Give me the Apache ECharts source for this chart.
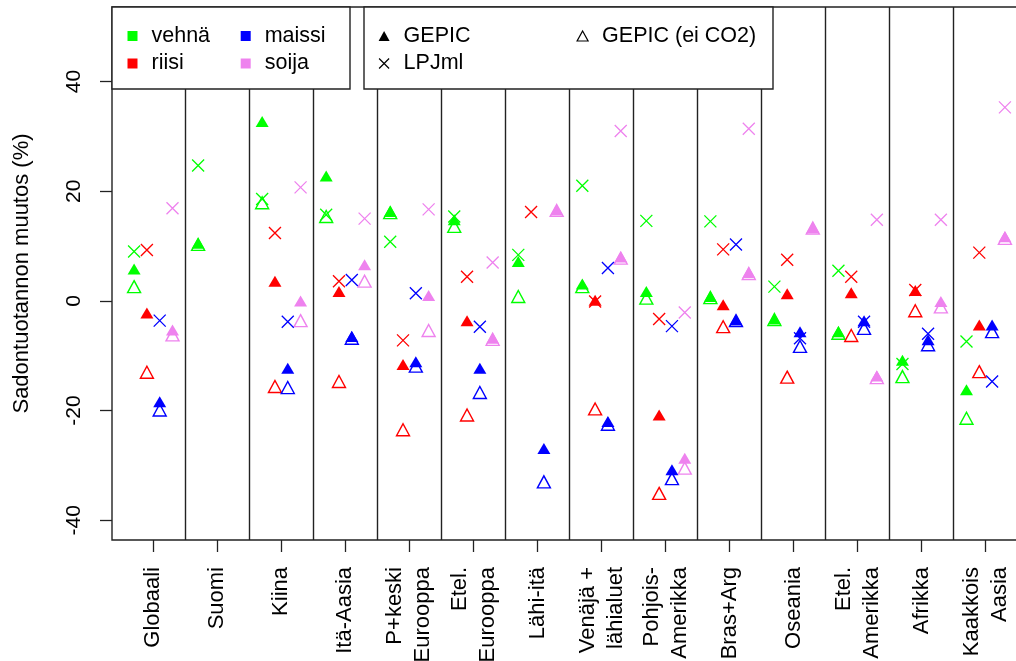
<!DOCTYPE html>
<html>
<head>
<meta charset="utf-8">
<script src="https://cdn.jsdelivr.net/npm/echarts@6/dist/echarts.min.js"></script>
<style>
html,body{margin:0;padding:0;background:#fff;}
#chart{width:1016px;height:661px;}
</style>
</head>
<body>
<div id="chart"></div>
<script>
// ---------- data ----------
const regions = ['Globaali','Suomi','Kiina','Itä-Aasia','P+keski\nEurooppa','Etel.\nEurooppa','Lähi-itä',
  'Venäjä +\nlähialuet','Pohjois-\nAmerikka','Bras+Arg','Oseania','Etel.\nAmerikka','Afrikka','Kaakkois\nAasia'];
const yTicks = [-40, -20, 0, 20, 40];
const crops = ['vehnä', 'riisi', 'maissi', 'soija'];
const models = ['GEPIC', 'LPJml', 'GEPIC (ei CO2)'];

const vehnaGEPIC  = [5.8, 10.5, 32.7, 22.8, 16.3, 14.8, 7.2, 3.1, 1.7, 0.8, -3.3, -5.6, -10.8, -16.2];
const vehnaLPJml  = [9.0, 24.7, 18.6, 15.7, 10.8, 15.4, 8.4, 21.0, 14.6, 14.5, 2.6, 5.5, -11.5, -7.4];
const vehnaNoCO2  = [2.6, 10.3, 17.9, 15.4, 16.1, 13.6, 0.8, 2.6, 0.5, 0.6, -3.4, -5.9, -13.8, -21.4];

const riisiGEPIC  = [-2.2, null, 3.6, 1.7, -11.6, -3.6, null, 0.1, -20.8, -0.7, 1.3, 1.5, 1.9, -4.4];
const riisiLPJml  = [9.3, null, 12.4, 3.6, -7.2, 4.4, 16.2, -0.1, -3.3, 9.4, 7.5, 4.4, 2.0, 8.8];
const riisiNoCO2  = [-13.0, null, -15.6, -14.7, -23.5, -20.8, null, -19.7, -35.1, -4.7, -13.9, -6.3, -1.8, -12.9];

const maissiGEPIC = [-18.4, null, -12.3, -6.5, -11.1, -12.3, -26.9, -22.0, -30.8, -3.5, -5.6, -3.6, -7.1, -4.4];
const maissiLPJml = [-3.6, null, -3.8, 3.8, 1.4, -4.7, null, 6.0, -4.6, 10.3, -6.8, -3.8, -6.0, -14.7];
const maissiNoCO2 = [-19.9, null, -15.8, -6.8, -11.9, -16.7, -33.0, -22.5, -32.4, -3.6, -8.3, -5.0, -8.0, -5.6];

const soijaGEPIC  = [-5.3, null, 0.0, 6.6, 1.0, -6.8, 16.6, 8.0, -28.7, 5.2, 13.4, -13.7, -0.1, 11.7];
const soijaLPJml  = [16.9, null, 20.7, 15.0, 16.7, 7.0, null, 31.0, -2.1, 31.4, null, 14.8, 14.8, 35.3];
const soijaNoCO2  = [-6.2, null, -3.6, 3.6, -5.4, -7.0, 16.5, 7.8, -30.5, 5.0, 13.3, -14.0, -1.1, 11.4];

const values = {
  'vehnä':  {'GEPIC': vehnaGEPIC,  'LPJml': vehnaLPJml,  'GEPIC (ei CO2)': vehnaNoCO2},
  'riisi':  {'GEPIC': riisiGEPIC,  'LPJml': riisiLPJml,  'GEPIC (ei CO2)': riisiNoCO2},
  'maissi': {'GEPIC': maissiGEPIC, 'LPJml': maissiLPJml, 'GEPIC (ei CO2)': maissiNoCO2},
  'soija':  {'GEPIC': soijaGEPIC,  'LPJml': soijaLPJml,  'GEPIC (ei CO2)': soijaNoCO2}
};
const separators = [1.5, 2.5, 3.5, 4.5, 5.5, 6.5, 7.5, 8.5, 9.5, 10.5, 11.5, 12.5, 13.5];

// ---------- styles ----------
const cropColor = {'vehnä': '#00FF00', 'riisi': '#FF0000', 'maissi': '#0000FF', 'soija': '#EE82EE'};
const cropOffset = {'vehnä': -0.3, 'riisi': -0.1, 'maissi': 0.1, 'soija': 0.3};
const CROSS = 'path://M0,0L10,10M10,0L0,10';
const FONT = 'Liberation Sans, Arial, sans-serif';

function modelStyle(model, color) {
  if (model === 'GEPIC') return {symbol: 'triangle', symbolSize: [13, 11], itemStyle: {color: color, borderWidth: 0, opacity: 1}};
  if (model === 'LPJml') return {symbol: CROSS, symbolSize: [12, 12], itemStyle: {color: 'transparent', borderColor: color, borderWidth: 1.3, opacity: 1}};
  return {symbol: 'triangle', symbolSize: [13, 12], itemStyle: {color: 'transparent', borderColor: color, borderWidth: 1.4, opacity: 1}};
}

const series = [];
['GEPIC (ei CO2)', 'GEPIC', 'LPJml'].forEach(function (m) {
  crops.forEach(function (c) {
    const st = modelStyle(m, cropColor[c]);
    const data = [];
    values[c][m].forEach(function (v, i) {
      if (v !== null) data.push([i + 1 + cropOffset[c], v]);
    });
    series.push({
      type: 'scatter', name: c + ' / ' + m, data: data,
      symbol: st.symbol, symbolSize: st.symbolSize, itemStyle: st.itemStyle,
      z: 3, silent: true
    });
  });
});
// separators
series.push({
  type: 'scatter', name: 'sep', data: [], silent: true,
  markLine: {
    silent: true, symbol: ['none', 'none'], label: {show: false},
    lineStyle: {color: '#222', type: 'solid', width: 1.4},
    data: separators.map(function (s) { return {xAxis: s}; })
  }
});
// legend carrier series
crops.forEach(function (c) {
  series.push({type: 'scatter', name: c, data: [], itemStyle: {color: cropColor[c], opacity: 1}});
});
models.forEach(function (m) {
  const st = modelStyle(m, '#000');
  series.push({type: 'scatter', name: m, data: [], symbol: st.symbol, itemStyle: st.itemStyle});
});

const legendText = {fontSize: 21.5, fontFamily: FONT, color: '#000', lineHeight: 21, padding: [0, 0, 0, 9]};
function legendBase(left, top, data, w, h) {
  return {
    left: left, top: top, orient: 'vertical', itemGap: 5.5, itemWidth: w, itemHeight: h,
    selectedMode: false, z: 20, padding: 0, textStyle: legendText, data: data
  };
}

const tickPos = regions.map(function (r, i) { return i + 1; });

const option = {
  animation: false,
  backgroundColor: '#fff',
  grid: {left: 112, top: 7, width: 915, height: 533, show: true, borderColor: '#222', borderWidth: 1.4,
         backgroundColor: 'transparent', containLabel: false, outerBoundsMode: 'none'},
  xAxis: {
    type: 'value', min: 0.355, max: 14.645,
    axisLine: {show: false, onZero: false}, splitLine: {show: false},
    axisTick: {show: true, length: 12, lineStyle: {color: '#222', width: 1.3}, customValues: tickPos},
    axisLabel: {
      customValues: tickPos,
      formatter: function (v) { return regions[Math.round(v) - 1]; },
      rotate: 90, margin: 27, fontSize: 22, lineHeight: 28, color: '#000', fontFamily: FONT
    }
  },
  yAxis: {
    type: 'value', min: -43.6, max: 53.6,
    axisLine: {show: false, onZero: false}, splitLine: {show: false},
    axisTick: {show: true, length: 12, lineStyle: {color: '#222', width: 1.3}, customValues: yTicks},
    axisLabel: {customValues: yTicks, rotate: 90, margin: 27, fontSize: 21, color: '#000', fontFamily: FONT},
    name: 'Sadontuotannon muutos (%)', nameLocation: 'middle', nameGap: 79,
    nameTextStyle: {fontSize: 22, color: '#000', fontFamily: FONT}
  },
  graphic: [
    {type: 'rect', z: 10, shape: {x: 112, y: 7, width: 238, height: 82}, style: {fill: '#fff', stroke: '#222', lineWidth: 1.4}},
    {type: 'rect', z: 10, shape: {x: 364, y: 7, width: 409, height: 82}, style: {fill: '#fff', stroke: '#222', lineWidth: 1.4}}
  ],
  legend: [
    legendBase(127.5, 25, [{name: 'vehnä', icon: 'rect'}, {name: 'riisi', icon: 'rect'}], 10, 10),
    legendBase(240.7, 25, [{name: 'maissi', icon: 'rect'}, {name: 'soija', icon: 'rect'}], 10, 10),
    legendBase(378.5, 25, [
      {name: 'GEPIC', icon: 'triangle', itemStyle: {color: '#000', borderWidth: 0}},
      {name: 'LPJml', icon: CROSS, itemStyle: {color: 'transparent', borderColor: '#000', borderWidth: 1.2}}
    ], 11, 10),
    legendBase(576.5, 25, [
      {name: 'GEPIC (ei CO2)', icon: 'triangle', itemStyle: {color: 'transparent', borderColor: '#000', borderWidth: 1.2}}
    ], 11, 10)
  ],
  series: series
};

const chart = echarts.init(document.getElementById('chart'), null, {renderer: 'canvas'});
chart.setOption(option);
</script>
</body>
</html>
